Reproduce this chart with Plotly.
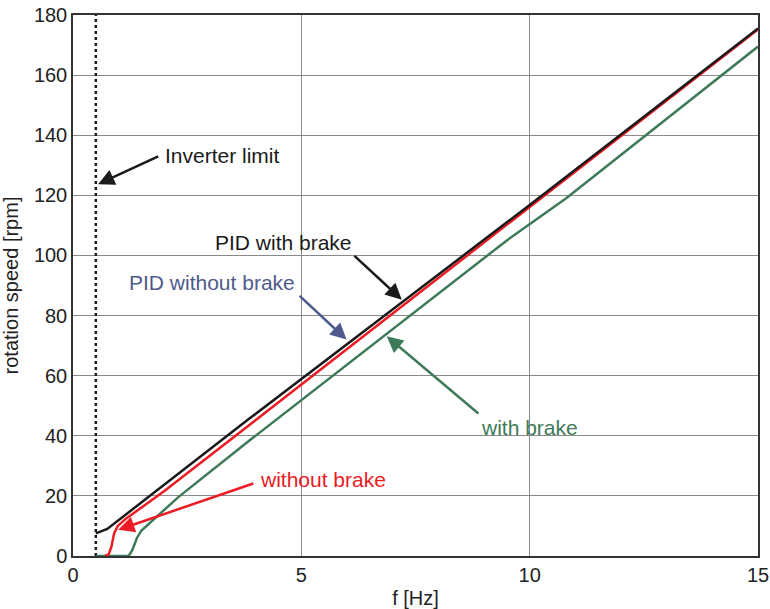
import plotly.graph_objects as go

# Data
pid_brake_f = [0.5, 0.75, 3.87, 10.0, 15.0]
pid_brake_rpm = [7.5, 9.0, 45.8, 116.8, 175.5]

pid_nobrake_f = [0.70, 0.78, 0.84, 0.90, 0.98, 1.15, 2.0, 3.87, 10.0, 15.0]
pid_nobrake_rpm = [0.0, 0.5, 3.0, 7.5, 10.0, 12.3, 21.6, 43.7, 116.0, 175.2]

brake_f = [0.5, 1.22, 1.30, 1.40, 1.50, 1.75, 2.3, 3.87, 9.5, 10.8, 15.0]
brake_rpm = [0.0, 0.0, 2.0, 6.0, 8.5, 12.0, 19.5, 38.5, 105.0, 119.0, 169.5]

inverter_f = [0.5, 0.5]
inverter_rpm = [0, 180]

x_ticks = [0, 5, 10, 15]
y_ticks = [0, 20, 40, 60, 80, 100, 120, 140, 160, 180]

BLACK = "#1a1a1a"
RED = "#ec1c24"
GREEN = "#3e7a58"
SLATE = "#4e5a8c"
FONT = "Liberation Sans, Arial, sans-serif"

fig = go.Figure()
fig.add_trace(go.Scatter(x=inverter_f, y=inverter_rpm, mode="lines",
                         line=dict(color=BLACK, width=2.5, dash="dot"), showlegend=False))
fig.add_trace(go.Scatter(x=brake_f, y=brake_rpm, mode="lines",
                         line=dict(color=GREEN, width=2.5), showlegend=False))
fig.add_trace(go.Scatter(x=pid_nobrake_f, y=pid_nobrake_rpm, mode="lines",
                         line=dict(color=RED, width=2.5), showlegend=False))
fig.add_trace(go.Scatter(x=pid_brake_f, y=pid_brake_rpm, mode="lines",
                         line=dict(color=BLACK, width=2.5), showlegend=False))

def arrow(tip, tail, color):
    fig.add_annotation(x=tip[0], y=tip[1], ax=tail[0], ay=tail[1],
                       xref="x", yref="y", axref="x", ayref="y",
                       text="", showarrow=True, arrowhead=2, arrowsize=1.3,
                       arrowwidth=2.5, arrowcolor=color)

def label(x, y, text, color, anchor="center"):
    fig.add_annotation(x=x, y=y, xref="x", yref="y", text=text, showarrow=False,
                       xanchor=anchor, yanchor="middle",
                       font=dict(family=FONT, size=21, color=color))

arrow((0.55, 123.7), (1.9, 133.2), BLACK)
label(1.97, 133.3, "Inverter limit", BLACK, "left")

arrow((7.2, 85.3), (6.13, 100.3), BLACK)
label(4.61, 104.3, "PID with brake", BLACK)

arrow((5.99, 72.0), (4.93, 87.0), SLATE)
label(3.05, 91.0, "PID without brake", SLATE)

arrow((6.87, 73.1), (8.91, 47.0), GREEN)
label(10.0, 42.7, "with brake", GREEN)

arrow((0.99, 8.7), (3.98, 24.3), RED)
label(4.05, 25.5, "without brake", RED, "left")

axis_common = dict(showgrid=True, gridcolor="#8a8a8a", gridwidth=1,
                   showline=True, linecolor="#333333", linewidth=1.5, mirror=True,
                   zeroline=False, ticks="", automargin=False,
                   tickfont=dict(family=FONT, size=20, color="#222"),
                   title_font=dict(family=FONT, size=20, color="#222"))

fig.update_xaxes(range=[0, 15], tickvals=x_ticks, title_text="f [Hz]", **axis_common)
fig.update_yaxes(range=[0, 180], tickvals=y_ticks, title_text="rotation speed [rpm]", **axis_common)

fig.update_layout(width=770, height=609, margin=dict(l=73, r=12, t=15, b=53),
                  plot_bgcolor="white", paper_bgcolor="white",
                  font=dict(family=FONT))

fig.write_html("out.html")
